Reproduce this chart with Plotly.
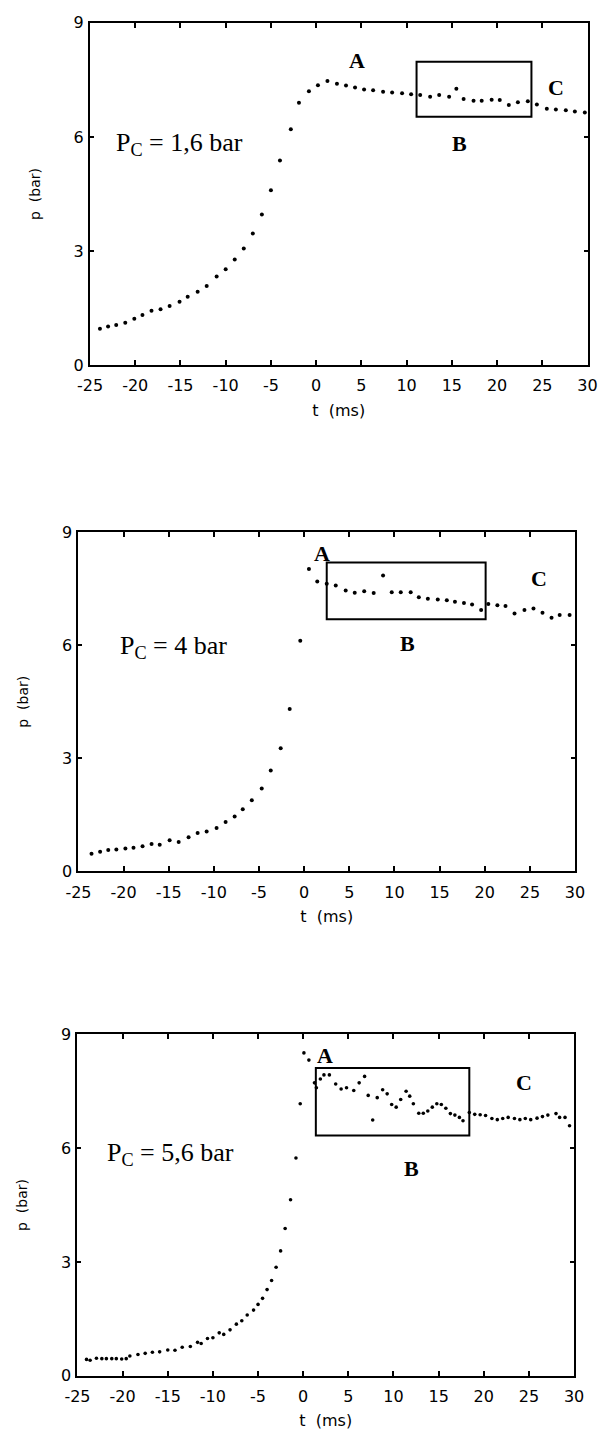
import plotly.graph_objects as go

# ---- Panel 1: P_C = 1,6 bar ----
t1 = [-23.9, -23.0, -22.1, -21.1, -20.1, -19.2, -18.2, -17.2, -16.2, -15.1,
      -14.2, -13.1, -12.1, -11.0, -10.0, -9.0, -8.0, -7.0, -6.0, -5.0,
      -4.0, -2.8, -1.9, -0.8, 0.2, 1.25, 2.3, 3.3, 4.3, 5.3,
      6.3, 7.4, 8.4, 9.5, 10.5, 11.5, 12.6, 13.6, 14.7, 15.5,
      16.3, 17.4, 18.3, 19.4, 20.3, 21.3, 22.3, 23.4, 24.4, 25.5,
      26.5, 27.6, 28.6, 29.7]
p1 = [0.96, 1.02, 1.06, 1.12, 1.22, 1.32, 1.43, 1.47, 1.56, 1.67,
      1.80, 1.93, 2.08, 2.33, 2.52, 2.78, 3.07, 3.46, 3.96, 4.60,
      5.38, 6.20, 6.90, 7.20, 7.36, 7.47, 7.40, 7.35, 7.30, 7.25,
      7.23, 7.19, 7.17, 7.15, 7.12, 7.10, 7.06, 7.10, 7.06, 7.27,
      7.00, 6.95, 6.95, 6.98, 6.97, 6.84, 6.91, 6.94, 6.85, 6.74,
      6.72, 6.70, 6.67, 6.64]

# ---- Panel 2: P_C = 4 bar ----
t2 = [-23.55, -22.6, -21.7, -20.8, -19.8, -18.9, -17.9, -16.9, -16.0, -14.9,
      -13.9, -12.8, -11.8, -10.8, -9.7, -8.7, -7.7, -6.8, -5.8, -4.7,
      -3.7, -2.6, -1.6, -0.43, 0.53, 1.45, 2.5, 3.5, 4.6, 5.6,
      6.65, 7.7, 8.74, 9.7, 10.7, 11.8, 12.7, 13.7, 14.8, 15.8,
      16.7, 17.7, 18.6, 19.6, 20.4, 21.4, 22.3, 23.3, 24.4, 25.4,
      26.4, 27.4, 28.3, 29.4]
p2 = [0.47, 0.52, 0.57, 0.58, 0.61, 0.63, 0.67, 0.73, 0.71, 0.83,
      0.78, 0.91, 1.02, 1.06, 1.15, 1.31, 1.46, 1.65, 1.89, 2.20,
      2.68, 3.27, 4.31, 6.12, 8.02, 7.69, 7.63, 7.58, 7.45, 7.39,
      7.43, 7.38, 7.85, 7.40, 7.40, 7.40, 7.27, 7.23, 7.21, 7.19,
      7.15, 7.12, 7.08, 6.93, 7.09, 7.06, 7.04, 6.84, 6.93, 6.97,
      6.86, 6.73, 6.80, 6.80]

# ---- Panel 3: P_C = 5,6 bar ----
t3 = [-24.0, -23.6, -22.9, -22.3, -21.8, -21.2, -20.7, -20.1, -19.6, -19.2,
      -18.3, -17.5, -16.7, -15.9, -15.0, -14.2, -13.4, -12.5, -11.7, -11.3,
      -10.6, -10.0, -9.3, -8.8, -8.1, -7.4, -6.8, -6.2, -5.5, -5.0,
      -4.5, -4.0, -3.5, -3.0, -2.5, -2.0, -1.4, -0.8, -0.33, 0.08,
      0.63, 1.25, 1.46, 1.9, 2.3, 2.9, 3.6, 4.2, 4.8, 5.6,
      6.2, 6.8, 7.2, 7.7, 8.2, 8.8, 9.3, 9.8, 10.3, 10.8,
      11.4, 11.8, 12.2, 12.8, 13.3, 13.8, 14.3, 14.8, 15.3, 15.8,
      16.3, 16.8, 17.3, 17.7, 18.4, 19.0, 19.6, 20.2, 20.9, 21.5,
      22.1, 22.7, 23.4, 24.0, 24.6, 25.2, 25.9, 26.5, 27.1, 28.0,
      28.4, 29.0, 29.5]
p3 = [0.43, 0.41, 0.46, 0.45, 0.45, 0.45, 0.45, 0.44, 0.45, 0.52,
      0.56, 0.59, 0.62, 0.63, 0.68, 0.67, 0.75, 0.77, 0.88, 0.85,
      0.98, 1.00, 1.13, 1.09, 1.21, 1.36, 1.45, 1.60, 1.73, 1.88,
      2.04, 2.27, 2.51, 2.86, 3.29, 3.88, 4.64, 5.74, 7.17, 8.51,
      8.32, 7.72, 7.59, 7.82, 7.93, 7.93, 7.69, 7.56, 7.59, 7.52,
      7.72, 7.89, 7.39, 6.74, 7.33, 7.54, 7.43, 7.15, 7.08, 7.28,
      7.50, 7.37, 7.17, 6.92, 6.92, 6.98, 7.08, 7.17, 7.15, 7.05,
      6.91, 6.87, 6.81, 6.72, 6.94, 6.89, 6.88, 6.86, 6.78, 6.75,
      6.78, 6.81, 6.78, 6.75, 6.78, 6.75, 6.79, 6.83, 6.87, 6.91,
      6.81, 6.81, 6.59]

# Boxes marking region B: [t0, t1, p0, p1]
box1 = [11.1, 23.8, 6.53, 7.98]
box2 = [2.5, 20.1, 6.69, 8.19]
box3 = [1.4, 18.4, 6.33, 8.11]

# Case labels
case_labels = ["P<sub>C</sub> = 1,6 bar", "P<sub>C</sub> = 4 bar", "P<sub>C</sub> = 5,6 bar"]

x_ticks = [-25, -20, -15, -10, -5, 0, 5, 10, 15, 20, 25, 30]
x_tick_text = ["-25", "-20", "-15", "-10", "-5", "0", "5", "10", "15", "20", "25", "30"]
y_ticks = [0, 3, 6, 9]
y_tick_text = ["0", "3", "6", "9"]

W, H = 611, 1441
# pixel frames of each panel: (left, right, top, bottom)
frames = [(80, 597, 14, 361), (68, 584, 530, 874), (67, 583, 1039, 1385)]

tick_font = dict(family="DejaVu Sans", size=16, color="black")
serif = "Liberation Serif"

fig = go.Figure()
series = [(t1, p1, 4.0), (t2, p2, 4.0), (t3, p3, 3.6)]
for i, (t, p, ms) in enumerate(series):
    sfx = "" if i == 0 else str(i + 1)
    fig.add_trace(go.Scatter(
        x=t, y=p, mode="markers",
        marker=dict(color="black", size=ms),
        xaxis="x" + sfx, yaxis="y" + sfx, showlegend=False,
        hoverinfo="x+y"))

layout = dict(
    width=W, height=H,
    margin=dict(l=0, r=0, t=0, b=0),
    paper_bgcolor="white", plot_bgcolor="white",
    showlegend=False,
)
for i, (l, r, tp, bt) in enumerate(frames):
    sfx = "" if i == 0 else str(i + 1)
    layout["xaxis" + sfx] = dict(
        domain=[l / W, r / W], anchor="y" + sfx,
        range=[-25, 30], tickvals=x_ticks, ticktext=x_tick_text,
        ticks="inside", ticklen=5, tickwidth=1.5, tickcolor="black",
        showline=True, linewidth=2, linecolor="black", mirror="ticks",
        showgrid=False, zeroline=False, tickfont=tick_font,
        ticklabelstandoff=5,
        title=dict(text="t  (ms)", font=tick_font, standoff=10),
    )
    layout["yaxis" + sfx] = dict(
        domain=[1 - bt / H, 1 - tp / H], anchor="x" + sfx,
        range=[0, 9], tickvals=y_ticks, ticktext=y_tick_text,
        ticks="inside", ticklen=4, tickwidth=1.5, tickcolor="black",
        showline=True, linewidth=2, linecolor="black", mirror="ticks",
        showgrid=False, zeroline=False, tickfont=tick_font,
        ticklabelstandoff=1,
        title=dict(text="p  (bar)", font=dict(family="DejaVu Sans", size=14, color="black"), standoff=30),
    )
fig.update_layout(**layout)

# Rectangles around region B
for i, b in enumerate([box1, box2, box3]):
    sfx = "" if i == 0 else str(i + 1)
    fig.add_shape(type="rect", xref="x" + sfx, yref="y" + sfx,
                  x0=b[0], x1=b[1], y0=b[2], y1=b[3],
                  line=dict(color="black", width=2))

# Letters A, B, C and case labels
letter_pos = [
    dict(A=(4.5, 8.02), B=(15.9, 5.82), C=(26.5, 7.29), P=(-22.4, 5.82)),
    dict(A=(2.0, 8.43), B=(11.45, 6.04), C=(26.0, 7.78), P=(-20.6, 5.95)),
    dict(A=(2.4, 8.45), B=(12.0, 5.46), C=(24.5, 7.73), P=(-21.9, 5.85)),
]
for i, pos in enumerate(letter_pos):
    sfx = "" if i == 0 else str(i + 1)
    for k in ["A", "B", "C"]:
        x, y = pos[k]
        fig.add_annotation(x=x, y=y, xref="x" + sfx, yref="y" + sfx, text="<b>%s</b>" % k,
                           showarrow=False, font=dict(family=serif, size=22, color="black"))
    x, y = pos["P"]
    fig.add_annotation(x=x, y=y, xref="x" + sfx, yref="y" + sfx, text=case_labels[i],
                       xanchor="left", showarrow=False,
                       font=dict(family=serif, size=26, color="black"))

fig.write_html("out.html")
